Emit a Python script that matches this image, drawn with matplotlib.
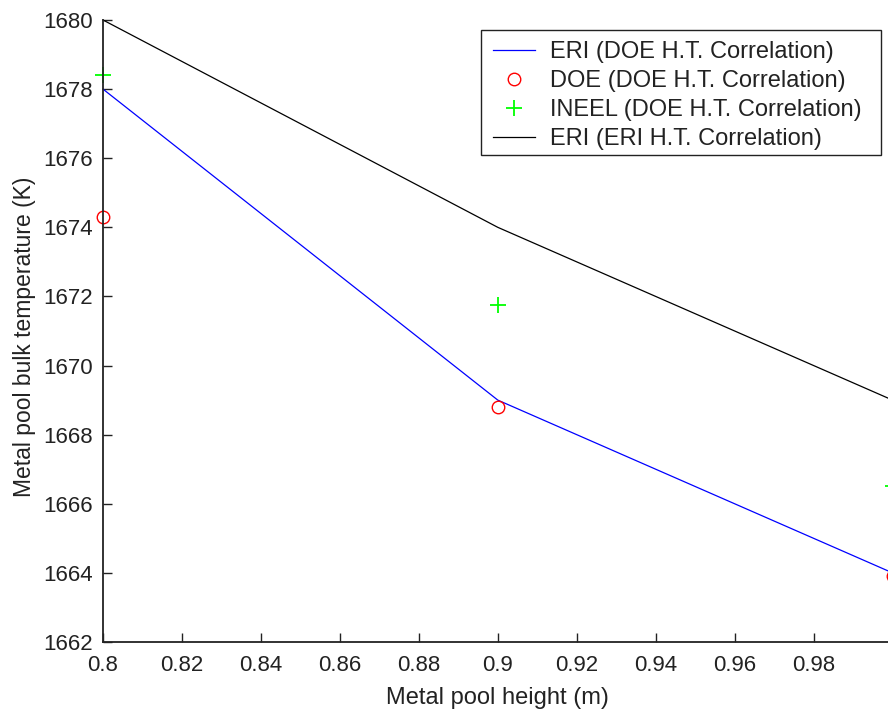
import matplotlib
matplotlib.use("Agg")
import matplotlib.pyplot as plt
from matplotlib.patches import Rectangle

plt.rcParams['font.family'] = ['Liberation Sans', 'DejaVu Sans']

# Metal pool height (m)
heights = [0.8, 0.9, 1.0]

# Bulk temperature (K) for each model
eri_doe = [1678.0, 1669.0, 1664.0]
doe_doe = [1674.3, 1668.8, 1663.9]
ineel_doe = [1678.4, 1671.75, 1666.5]
eri_eri = [1680.0, 1674.0, 1669.0]

series_labels = [
    "ERI (DOE H.T. Correlation)",
    "DOE (DOE H.T. Correlation)",
    "INEEL (DOE H.T. Correlation)",
    "ERI (ERI H.T. Correlation)",
]

x_ticks = [0.8, 0.82, 0.84, 0.86, 0.88, 0.9, 0.92, 0.94, 0.96, 0.98]
x_tick_labels = ["0.8", "0.82", "0.84", "0.86", "0.88", "0.9", "0.92", "0.94", "0.96", "0.98"]
y_ticks = list(range(1662, 1681, 2))

ink = '#222222'

fig = plt.figure(figsize=(8.88, 7.12), dpi=100)
ax = fig.add_axes([103 / 888, 70 / 712, 789.6 / 888, 622 / 712])

ax.plot(heights, eri_doe, color=(0, 0, 1), lw=0.9, label=series_labels[0], clip_on=False)
ax.plot(heights, doe_doe, linestyle='none', marker='o', markersize=9,
        markerfacecolor='none', markeredgecolor=(1, 0, 0), markeredgewidth=1.0,
        label=series_labels[1], clip_on=False)
ax.plot(heights, ineel_doe, linestyle='none', marker='+', markersize=11,
        markeredgecolor=(0, 1, 0), markeredgewidth=1.3,
        label=series_labels[2], clip_on=False)
ax.plot(heights, eri_eri, color='black', lw=0.9, label=series_labels[3], clip_on=False)

ax.set_xlim(0.8, 1.0)
ax.set_ylim(1662, 1680)
ax.set_xticks(x_ticks)
ax.set_xticklabels(x_tick_labels)
ax.set_yticks(y_ticks)
ax.set_yticklabels([str(v) for v in y_ticks])

for side in ('top', 'right'):
    ax.spines[side].set_visible(False)
for side in ('left', 'bottom'):
    ax.spines[side].set_linewidth(1.3)
    ax.spines[side].set_color(ink)

ax.tick_params(direction='in', length=6.5, width=1.0, labelsize=16, colors=ink)
ax.tick_params(axis='x', pad=9.5)
ax.tick_params(axis='y', pad=7)

ax.set_xlabel("Metal pool height (m)", fontsize=17, color=ink, labelpad=8)
ax.set_ylabel("Metal pool bulk temperature (K)", fontsize=16.5, color=ink)
ax.yaxis.set_label_coords(-0.085, 0.49)

# legend box drawn separately so it can carry the wide right margin
ax.add_patch(Rectangle((0.4787, 0.783), 0.9853 - 0.4787, 0.984 - 0.783,
                       transform=ax.transAxes, facecolor='white', edgecolor=ink,
                       linewidth=1.0, zorder=4, clip_on=False))
leg = ax.legend(loc='upper left', bbox_to_anchor=(0.4939, 0.966), borderaxespad=0,
                fontsize=17, frameon=False, handlelength=1.78, handletextpad=0.64,
                labelspacing=0.3, borderpad=0)
leg.set_zorder(5)
for t in leg.get_texts():
    t.set_color(ink)

fig.savefig("out.png", dpi=100)
